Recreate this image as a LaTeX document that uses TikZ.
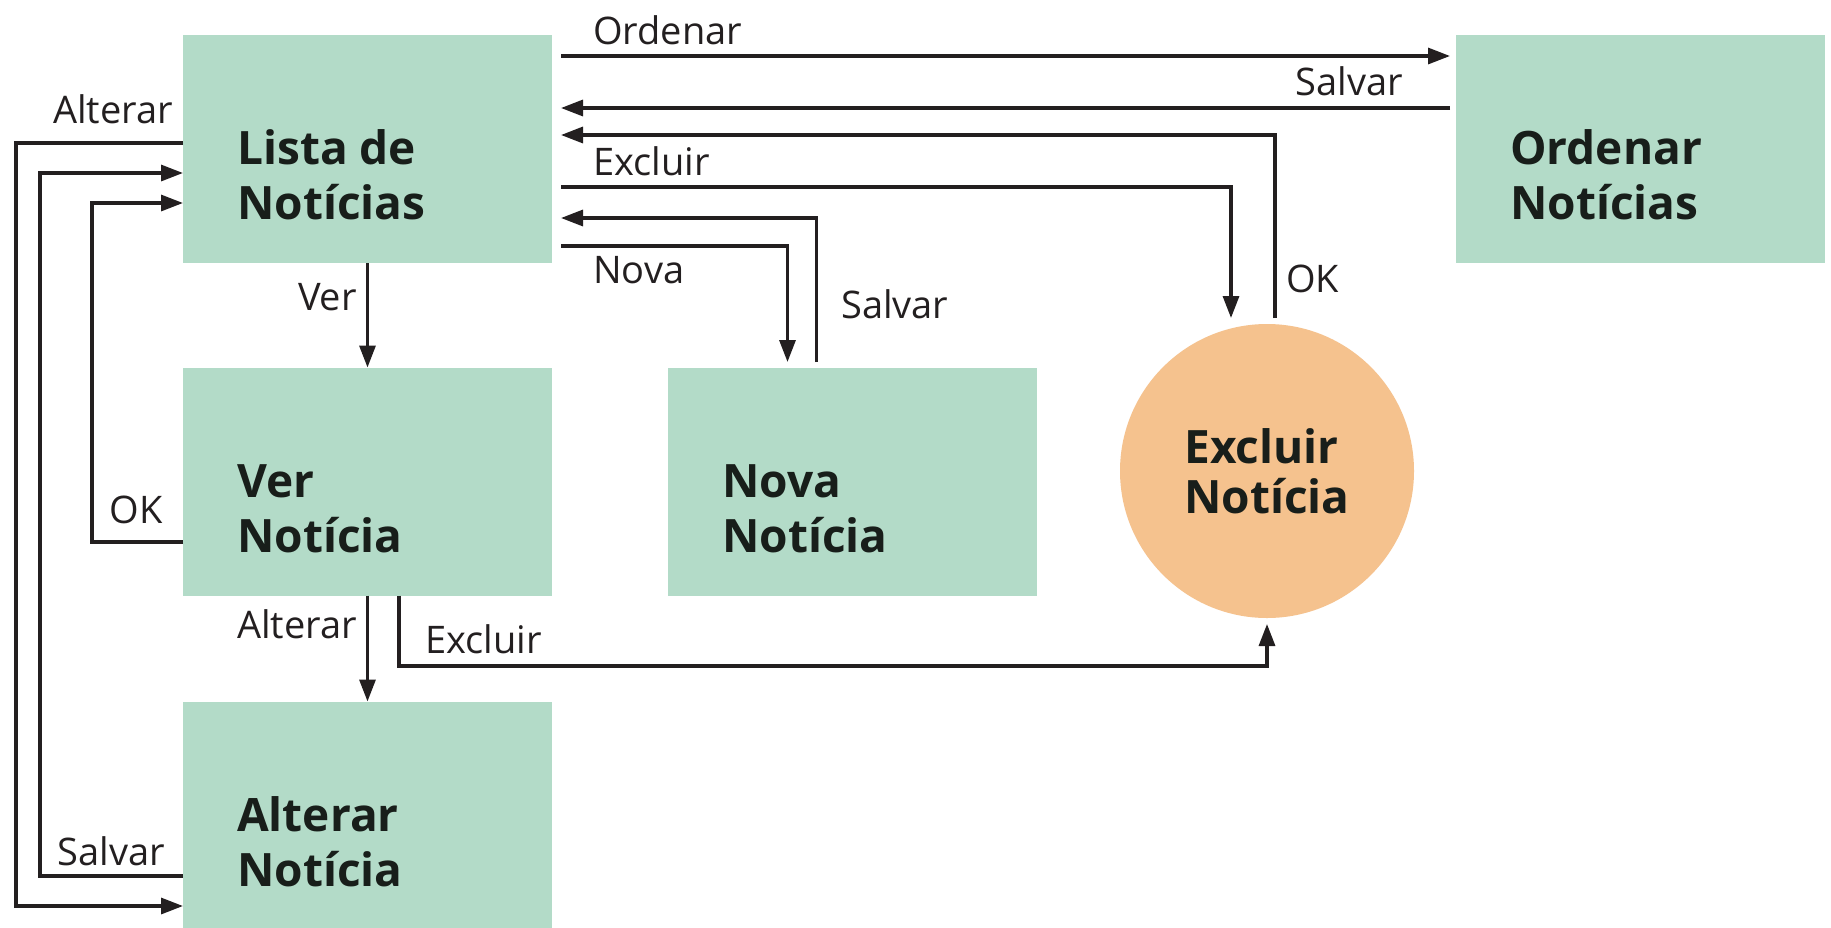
\documentclass[tikz,border=0pt]{standalone}
\usepackage{fontspec}
\setmainfont{Open Sans}
\usetikzlibrary{arrows.meta}
\definecolor{boxgreen}{RGB}{179,219,200}
\definecolor{circpeach}{RGB}{245,194,142}
\definecolor{inkline}{RGB}{35,31,32}
\definecolor{textdark}{RGB}{24,30,26}
\begin{document}
\begin{tikzpicture}[x=1pt,y=-1pt]
        \tikzstyle{screen}=[rectangle,fill=boxgreen,minimum width=369pt,minimum height=228pt,inner sep=0pt,outer sep=0pt]
        \tikzstyle{action}=[circle,fill=circpeach,minimum size=294pt,inner sep=0pt,outer sep=6pt,align=left,text=textdark,font=\bfseries\fontsize{46}{50}\selectfont]
        \tikzstyle{title}=[anchor=west,align=left,inner sep=0pt,text=textdark,font=\bfseries\fontsize{46}{55}\selectfont]
        \tikzstyle{lbl}=[anchor=base west,inner sep=0pt,text=inkline,font=\fontsize{38}{40}\selectfont]
        \tikzstyle{flow}=[draw=inkline,line width=3.2pt,-{Triangle[length=22pt,width=16pt]}]
        \useasboundingbox (0,0) rectangle (1831,927);
        \fill[white] (0,0) rectangle (1831,927);
        \node[screen] (lista) at (367.5,149) {};
        \node[screen,outer sep=6pt] (ordenar) at (1640.5,149) {};
        \node[screen] (ver) at (367.5,481.5) {};
        \node[screen,outer sep=6pt] (nova) at (852.5,482) {};
        \node[action] (excluir) at (1267,471) {Excluir\\Notícia};
        \node[screen] (alterar) at (367.5,815.5) {};
        \node[title] (t_lista) at (237,175) {Lista de\\Notícias};
        \node[title] (t_ordenar) at (1510,175) {Ordenar\\Notícias};
        \node[title] (t_ver) at (237,509) {Ver\\Notícia};
        \node[title] (t_nova) at (722,509) {Nova\\Notícia};
        \node[title] (t_alterar) at (237,842) {Alterar\\Notícia};
        \draw[flow,shorten <=9pt] (lista.east |- 0,56) -- (ordenar.west |- 0,56);
        \draw[flow,shorten >=9pt] (ordenar.west |- 0,108) -- (lista.east |- 0,108);
        \draw[flow,shorten >=9pt] ([xshift=8pt]excluir.north) |- (lista.east |- 0,135);
        \draw[flow,shorten <=9pt] (lista.east |- 0,187) -| ([xshift=-36pt]excluir.north);
        \draw[flow,shorten >=9pt] ([xshift=-36pt]nova.north) |- (lista.east |- 0,218);
        \draw[flow,shorten <=9pt] (lista.east |- 0,246) -| ([xshift=-65pt]nova.north);
        \draw[flow] (lista) -- (ver);
        \draw[flow] (ver) -- (alterar);
        \draw[flow] (ver.south -| 399,0) |- (excluir.south |- 0,666) -- (excluir.south);
        \draw[flow] (lista.west |- 0,143) -| (16,906) -- (alterar.west |- 0,906);
        \draw[flow] (alterar.west |- 0,876) -| (40,173) -- (lista.west |- 0,173);
        \draw[flow] (ver.west |- 0,542) -| (92,203) -- (lista.west |- 0,203);
        \node[lbl] (l_ordenar) at (593,44) {Ordenar};
        \node[lbl,anchor=base east] (l_salvar1) at (1403,95) {Salvar};
        \node[lbl] (l_ok1) at (1286,292) {OK};
        \node[lbl] (l_excluir1) at (593,175) {Excluir};
        \node[lbl] (l_nova) at (593,283) {Nova};
        \node[lbl] (l_salvar2) at (841,318) {Salvar};
        \node[lbl,anchor=base east] (l_alterar1) at (173,123) {Alterar};
        \node[lbl,anchor=base east] (l_ver) at (357,310) {Ver};
        \node[lbl,anchor=base east] (l_ok2) at (163,523) {OK};
        \node[lbl,anchor=base east] (l_alterar2) at (357,638) {Alterar};
        \node[lbl] (l_excluir2) at (425,653) {Excluir};
        \node[lbl,anchor=base east] (l_salvar3) at (165,865) {Salvar};
      \end{tikzpicture}
\end{document}
